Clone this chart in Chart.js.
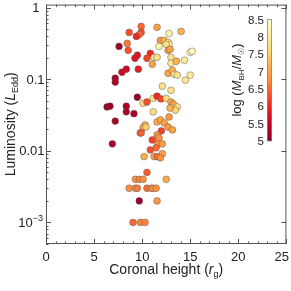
<!DOCTYPE html>
<html lang="en">
  <head>
    <meta charset="UTF-8" />
    <title>Coronal height vs luminosity</title>
    <script src="https://cdn.jsdelivr.net/npm/chart.js"></script>
    <style>
      body {
        margin: 0;
        background: #fff;
      }
    </style>
  </head>
  <body>
    <canvas id="scatter" width="291" height="291"></canvas>

    <script>
      // Data
      const height = [
        9.9, 8.65, 9.9, 9.7, 9.4, 7.6, 8.45, 8.55, 9.5, 9.25, 10.85, 10.5, 11.05,
        11.25, 9.6, 8.35, 7.9, 7.2, 7.2, 11.55, 12.8, 14.05, 11.9, 12.3, 12.7, 12.8,
        11.75, 12.5, 12.7, 12.9, 15.0, 15.2, 11.55, 13.0, 13.0, 13.55, 14.4, 12.7,
        13.15, 13.35, 13.65, 15.0, 14.5, 9.5, 10.1, 10.5, 11.15, 6.35, 6.65, 8.35,
        8.35, 9.15, 7.2, 11.15, 10.3, 10.1, 10.4, 9.8, 9.9, 11.05, 6.9, 10.85, 10.2,
        11.25, 12.1, 11.55, 11.95, 12.5, 13.0, 13.0, 13.25, 13.65, 13.45, 12.9, 12.8,
        11.55, 11.9, 12.3, 12.7, 13.15, 12.0, 11.55, 11.75, 11.65, 12.1, 11.45, 12.1,
        11.55, 11.9, 10.5, 9.3, 9.7, 10.1, 12.5, 8.65, 9.3, 9.5, 10.5, 10.95, 11.15,
        11.45, 9.7, 11.55, 9.05, 9.8, 10.3,
      ];
      const luminosity = [
        0.545, 0.45, 0.45, 0.42, 0.395, 0.287, 0.316, 0.253, 0.216, 0.196, 0.23,
        0.196, 0.162, 0.202, 0.138, 0.138, 0.125, 0.103, 0.091, 0.53, 0.435, 0.464,
        0.348, 0.348, 0.327, 0.306, 0.287, 0.306, 0.253, 0.261, 0.237, 0.245, 0.202,
        0.202, 0.167, 0.178, 0.184, 0.121, 0.133, 0.117, 0.114, 0.114, 0.097, 0.056,
        0.046, 0.048, 0.054, 0.041, 0.042, 0.042, 0.035, 0.033, 0.026, 0.035, 0.023,
        0.021, 0.0215, 0.0178, 0.0178, 0.0142, 0.0125, 0.0103, 0.0083, 0.0083, 0.08,
        0.058, 0.053, 0.054, 0.07, 0.048, 0.045, 0.041, 0.037, 0.0395, 0.0297,
        0.0253, 0.027, 0.0245, 0.0215, 0.0196, 0.019, 0.0167, 0.0152, 0.0125, 0.0125,
        0.011, 0.0091, 0.0083, 0.008, 0.005, 0.004, 0.004, 0.004, 0.004, 0.003,
        0.003, 0.003, 0.003, 0.003, 0.003, 0.003, 0.002, 0.002, 0.001, 0.001, 0.001,
      ];
      const logMass = [
        6.5, 6.3, 6.3, 6.5, 6.0, 5.2, 6.6, 6.3, 5.8, 5.8, 6.0, 6.2, 7.0, 7.8, 5.9,
        5.6, 5.6, 5.3, 5.3, 7.0, 8.2, 7.2, 6.9, 7.2, 7.8, 8.0, 8.2, 7.8, 7.0, 7.0,
        8.3, 8.3, 7.8, 7.8, 7.9, 7.2, 8.0, 7.0, 7.2, 7.8, 7.8, 8.0, 7.9, 5.2, 7.7,
        6.3, 7.8, 5.1, 5.2, 5.3, 5.3, 5.3, 5.3, 7.7, 7.2, 7.0, 7.5, 6.5, 6.4, 6.2,
        5.3, 6.3, 7.1, 7.0, 7.8, 6.0, 6.2, 7.7, 7.8, 7.1, 7.0, 7.8, 7.6, 7.2, 6.9,
        7.1, 7.0, 7.0, 6.9, 7.0, 6.2, 6.8, 6.8, 6.8, 6.9, 6.5, 7.0, 6.5, 6.8, 6.4,
        6.8, 6.7, 6.8, 7.1, 6.8, 6.8, 6.6, 6.5, 6.7, 6.8, 6.8, 5.2, 6.9, 6.5, 6.7,
        6.7,
      ];

      const xTicks = [0, 5, 10, 15, 20, 25];
      const yTicks = [0.001, 0.01, 0.1, 1];
      const yTickLabels = ["10^-3", "0.01", "0.1", "1"];
      const cbarTicks = [5, 5.5, 6, 6.5, 7, 7.5, 8, 8.5];
      const massMin = 5;
      const massMax = 8.5;

      // YlOrRd colormap, low mass = dark red, high mass = pale yellow
      const ylOrRd = [
        [255, 255, 204], [255, 237, 160], [254, 217, 118], [254, 178, 76],
        [253, 141, 60], [252, 78, 42], [227, 26, 28], [189, 0, 38], [128, 0, 38],
      ];
      function massColor(m) {
        let t = (massMax - m) / (massMax - massMin);
        t = Math.max(0, Math.min(1, t)) * (ylOrRd.length - 1);
        const i = Math.min(Math.floor(t), ylOrRd.length - 2);
        const f = t - i;
        const a = ylOrRd[i], b = ylOrRd[i + 1];
        const c = a.map((v, k) => Math.round(v + (b[k] - v) * f));
        return "rgb(" + c.join(",") + ")";
      }

      const points = height.map((h, i) => ({ x: h, y: luminosity[i] }));
      const colors = logMass.map(massColor);

      const FONT = "'Liberation Sans', Arial, sans-serif";
      const TEXT = "#222";

      // draws a run of text pieces (normal / italic / subscript) in a row
      function richText(ctx, parts, x, y) {
        let w = 0;
        parts.forEach((p) => {
          ctx.font = p.font;
          w += ctx.measureText(p.t).width;
        });
        let cx = x - w / 2;
        ctx.textAlign = "left";
        ctx.textBaseline = "alphabetic";
        parts.forEach((p) => {
          ctx.font = p.font;
          ctx.fillText(p.t, cx, y + (p.dy || 0));
          cx += ctx.measureText(p.t).width;
        });
      }

      const framePlugin = {
        id: "frame",
        afterDraw(chart) {
          const ctx = chart.ctx;
          const area = chart.chartArea;
          const xs = chart.scales.x;
          const ys = chart.scales.y;
          ctx.save();

          // frame
          ctx.strokeStyle = "#555";
          ctx.lineWidth = 1;
          ctx.strokeRect(area.left + 0.5, area.top + 0.5, area.right - area.left - 1, area.bottom - area.top - 1);

          // x ticks (bottom & top), minor every 1
          ctx.beginPath();
          for (let v = 0; v <= 25; v++) {
            const px = Math.round(xs.getPixelForValue(v)) + 0.5;
            const len = v % 5 === 0 ? 5 : 2.5;
            ctx.moveTo(px, area.bottom);
            ctx.lineTo(px, area.bottom - len);
            ctx.moveTo(px, area.top);
            ctx.lineTo(px, area.top + len);
          }
          // y ticks, log minors on the left, majors on both sides
          for (let e = -4; e <= 0; e++) {
            for (let k = 1; k <= 9; k++) {
              const v = k * Math.pow(10, e);
              if (v < ys.min || v > ys.max) continue;
              const py = Math.round(ys.getPixelForValue(v)) + 0.5;
              const len = k === 1 ? 5 : 2.5;
              ctx.moveTo(area.left, py);
              ctx.lineTo(area.left + len, py);
              if (k === 1) {
                ctx.moveTo(area.right, py);
                ctx.lineTo(area.right - len, py);
              }
            }
          }
          ctx.stroke();

          // tick labels
          ctx.fillStyle = TEXT;
          ctx.font = "13px " + FONT;
          ctx.textAlign = "center";
          ctx.textBaseline = "middle";
          xTicks.forEach((v) => {
            const lab = String(v);
            const w = ctx.measureText(lab).width;
            const px = Math.min(xs.getPixelForValue(v), chart.width - 2 - w / 2);
            ctx.fillText(lab, px, area.bottom + 13);
          });
          yTicks.forEach((v, i) => {
            const py = ys.getPixelForValue(v);
            const lab = yTickLabels[i];
            ctx.textBaseline = "middle";
            if (lab.indexOf("^") > 0) {
              const [base, sup] = lab.split("^");
              ctx.font = "9px " + FONT;
              const sw = ctx.measureText(sup.replace("-", "\u2212")).width;
              ctx.textAlign = "right";
              ctx.fillText(sup.replace("-", "\u2212"), 43, py - 4);
              ctx.font = "13px " + FONT;
              ctx.fillText(base, 43 - sw, py + 1);
            } else {
              ctx.font = "13px " + FONT;
              ctx.textAlign = "right";
              ctx.fillText(lab, lab === "1" ? 39.5 : 44.5, py + 1);
            }
          });

          // axis titles
          richText(ctx, [
            { t: "Coronal height (", font: "14px " + FONT },
            { t: "r", font: "italic 14px " + FONT },
            { t: "g", font: "9px " + FONT, dy: 3 },
            { t: ")", font: "14px " + FONT },
          ], (area.left + area.right) / 2, 274);

          ctx.save();
          ctx.translate(15, (area.top + area.bottom) / 2);
          ctx.rotate(-Math.PI / 2);
          richText(ctx, [
            { t: "Luminosity (", font: "14px " + FONT },
            { t: "L", font: "italic 14px " + FONT },
            { t: "Edd", font: "9px " + FONT, dy: 3 },
            { t: ")", font: "14px " + FONT },
          ], 0, 0);
          ctx.restore();

          // colour bar
          const cbL = 267, cbW = 5, cbTop = 19.5, cbBot = 141;
          const cbY = (m) => cbBot - ((m - massMin) / (massMax - massMin)) * (cbBot - cbTop);
          const grad = ctx.createLinearGradient(0, cbBot, 0, cbTop);
          for (let s = 0; s <= 40; s++) {
            const m = massMin + ((massMax - massMin) * s) / 40;
            grad.addColorStop(s / 40, massColor(m));
          }
          ctx.fillStyle = grad;
          ctx.fillRect(cbL, cbTop, cbW, cbBot - cbTop);
          ctx.strokeStyle = "#888";
          ctx.lineWidth = 0.8;
          ctx.strokeRect(cbL + 0.5, cbTop, cbW - 1, cbBot - cbTop);

          ctx.fillStyle = TEXT;
          ctx.font = "11.5px " + FONT;
          ctx.textAlign = "right";
          ctx.textBaseline = "middle";
          cbarTicks.forEach((m) => {
            ctx.fillText(String(m), cbL - 3, cbY(m) + 1);
          });

          ctx.save();
          ctx.translate(236, 80);
          ctx.rotate(-Math.PI / 2);
          richText(ctx, [
            { t: "log (", font: "13px " + FONT },
            { t: "M", font: "italic 13px " + FONT },
            { t: "BH", font: "8px " + FONT, dy: 3 },
            { t: "/", font: "13px " + FONT },
            { t: "M", font: "italic 13px " + FONT },
            { t: "\u2609", font: "8px 'DejaVu Sans', sans-serif", dy: 3 },
            { t: ")", font: "13px " + FONT },
          ], 0, 5);
          ctx.restore();

          ctx.restore();
        },
      };

      new Chart(document.getElementById("scatter"), {
        type: "scatter",
        data: {
          datasets: [
            {
              data: points,
              backgroundColor: colors,
              borderColor: "rgba(90,90,90,0.8)",
              borderWidth: 0.6,
              pointRadius: 3.4,
            },
          ],
        },
        options: {
          responsive: false,
          animation: false,
          layout: { padding: { left: 46, right: 4, top: 3, bottom: 47 } },
          plugins: { legend: { display: false }, tooltip: { enabled: false } },
          scales: {
            x: { type: "linear", min: 0, max: 25, display: false },
            y: { type: "logarithmic", min: 0.0005, max: 1.1, display: false },
          },
        },
        plugins: [framePlugin],
      });
    </script>
  </body>
</html>
